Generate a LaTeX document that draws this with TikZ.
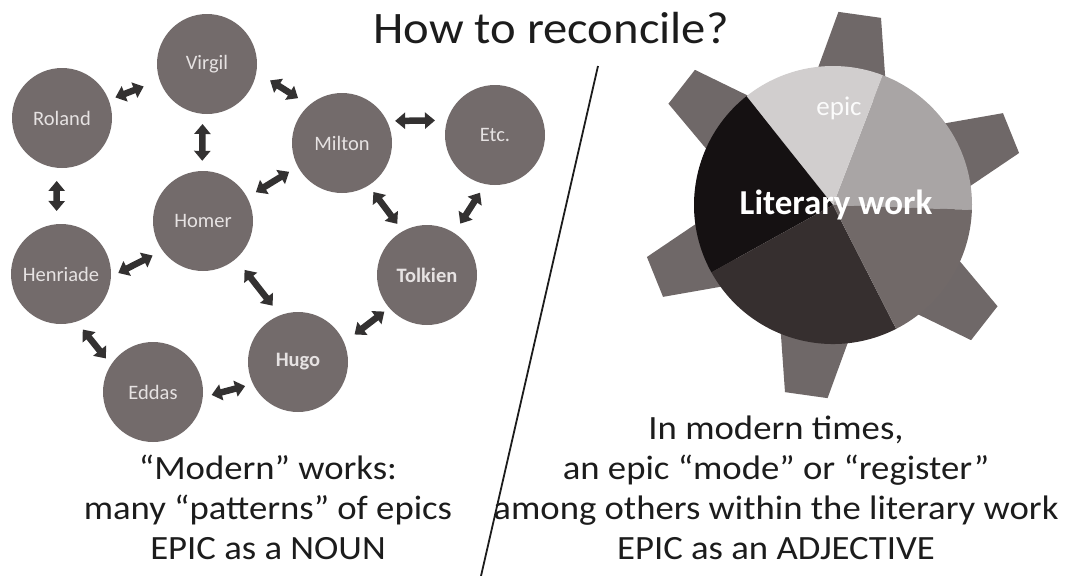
\documentclass[tikz,border=0pt]{standalone}
\usepackage{fontspec}
\setmainfont{Carlito}[FakeStretch=1.08]
\newfontfamily\labelfont{Carlito}
\usetikzlibrary{arrows.meta}
\definecolor{nodegray}{HTML}{736B6B}
\definecolor{labelc}{HTML}{E6E2E2}
\definecolor{arrowc}{HTML}{333131}
\definecolor{toothc}{HTML}{6F6868}
\definecolor{sA}{HTML}{A9A5A5}
\definecolor{sB}{HTML}{D1CECE}
\definecolor{sC}{HTML}{151112}
\definecolor{sD}{HTML}{362F2F}
\definecolor{sE}{HTML}{716968}
\definecolor{inkc}{HTML}{1C1C1C}
\begin{document}
\begin{tikzpicture}[x=1pt,y=-1pt,
  work/.style={circle, fill=nodegray, minimum size=100pt, inner sep=0pt, text=labelc, font=\labelfont\fontsize{20.5}{24}\selectfont},
  boldwork/.style={work, font=\labelfont\fontsize{20.5}{24}\selectfont\bfseries},
  biarrow/.style={draw=arrowc, line width=6.5pt, {Triangle[width=16pt,length=10pt]}-{Triangle[width=16pt,length=10pt]}},
  caption/.style={anchor=base, text=inkc, inner sep=0pt, font=\fontsize{34}{40}\selectfont},
  titletext/.style={anchor=base, text=inkc, inner sep=0pt, font=\fontsize{45}{55}\selectfont},
  sepline/.style={draw=inkc, line width=1.8pt}]
\useasboundingbox (0,0) rectangle (1069,576);

% ---- network of epics ----
\node[work] (Ro) at (62,118) {Roland};
\node[work] (Vi) at (207,64) {Virgil};
\node[work] (Mi) at (342,143) {Milton};
\node[work] (Et) at (495,135) {Etc.};
\node[work] (Ho) at (203,221) {Homer};
\node[work] (He) at (61,274) {Henriade};
\node[boldwork] (To) at (427,275) {Tolkien};
\node[boldwork] (Hu) at (298,362) {Hugo};
\node[work] (Ed) at (153,392) {Eddas};

\draw[biarrow, shorten <=7pt, shorten >=17pt] (Ro.21.6) -- (Vi.199.8);
\draw[biarrow, shorten <=16pt, shorten >=13pt] (Vi.-9.5) -- (Mi.131);
\draw[biarrow, shorten <=10pt, shorten >=10pt] (Vi.265) -- (Ho.91);
\draw[biarrow, shorten <=13pt, shorten >=13pt] (Ro.264) -- (He.95);
\draw[biarrow, shorten <=8pt, shorten >=12pt] (Mi.26) -- (Et.163);
\draw[biarrow, shorten <=10pt, shorten >=10pt] (Mi.208) -- (Ho.28);
\draw[biarrow, shorten <=8pt, shorten >=9pt] (Mi.302) -- (To.119);
\draw[biarrow, shorten <=10pt, shorten >=11pt] (Et.259) -- (To.57.6);
\draw[biarrow, shorten <=11pt, shorten >=8pt] (Ho.216) -- (He.-3);
\draw[biarrow, shorten <=14pt, shorten >=12pt] (Ho.311) -- (Hu.111);
\draw[biarrow, shorten <=6pt, shorten >=13pt] (To.221) -- (Hu.23);
\draw[biarrow, shorten <=10pt, shorten >=8pt] (He.288) -- (Ed.147);
\draw[biarrow, shorten <=9pt, shorten >=8pt] (Ed.-6) -- (Hu.206);

% ---- gear / pie ----
\begin{scope}[shift={(833,205)}]
  \foreach \a in {22,82,142,202,262,322}
    \fill[toothc, rotate=\a] (110pt,-39pt) -- (192pt,-21.5pt) -- (192pt,21.5pt) -- (110pt,39pt) -- cycle;
  \fill[sA] (0pt,0pt) -- (-2:139pt) arc[start angle=-2, end angle=69, radius=139pt] -- cycle;
  \fill[sB] (0pt,0pt) -- (69:139pt) arc[start angle=69, end angle=128.5, radius=139pt] -- cycle;
  \fill[sC] (0pt,0pt) -- (128.5:139pt) arc[start angle=128.5, end angle=209, radius=139pt] -- cycle;
  \fill[sD] (0pt,0pt) -- (209:139pt) arc[start angle=209, end angle=297, radius=139pt] -- cycle;
  \fill[sE] (0pt,0pt) -- (297:139pt) arc[start angle=297, end angle=358, radius=139pt] -- cycle;
\end{scope}
\node[text=white!92!sB, font=\labelfont\fontsize{27}{32}\selectfont, inner sep=0pt] (ep) at (839,108) {epic};
\node[text=white, font=\labelfont\fontsize{35}{40}\selectfont\bfseries, inner sep=0pt] (lw) at (836,205) {Literary work};

% ---- title and separator ----
\node[titletext] (ttl) at (551,43) {How to reconcile?};
\coordinate (sepTop) at (598,66);
\coordinate (sepBot) at (481,576);
\draw[sepline] (sepTop) -- (sepBot);

% ---- captions ----
\node[caption] (l1) at (268,479) {“Modern” works:};
\node[caption] (l2) at (268,519) {many “patterns” of epics};
\node[caption] (l3) at (268,559) {EPIC as a NOUN};

\node[caption] (r1) at (776,439) {In modern times,};
\node[caption] (r2) at (776,479) {an epic “mode” or “register”};
\node[caption] (r3) at (776,519) {among others within the literary work};
\node[caption] (r4) at (776,559) {EPIC as an ADJECTIVE};
\end{tikzpicture}
\end{document}
